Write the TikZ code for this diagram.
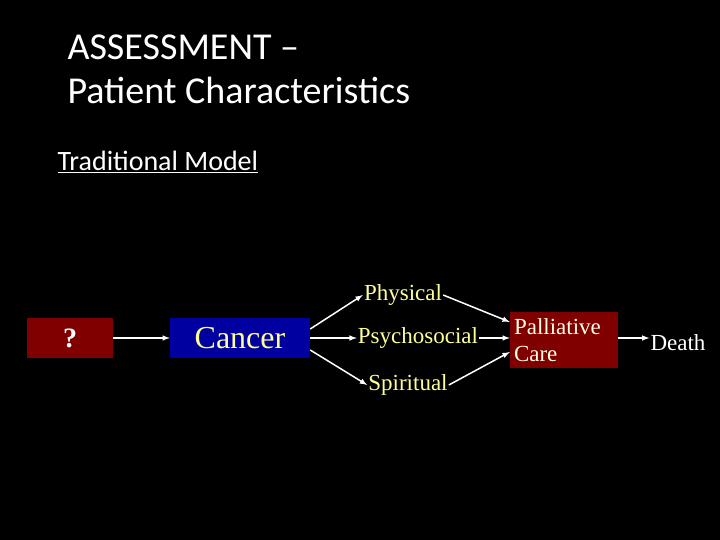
\documentclass[tikz,border=0pt]{standalone}
\usepackage{fontspec}
\setmainfont{Liberation Serif}
\newfontfamily\titlefont{Carlito}
\usetikzlibrary{positioning}
\definecolor{boxred}{HTML}{800000}
\definecolor{boxblue}{HTML}{0000A0}
\definecolor{lightyellow}{HTML}{FFFF99}
\begin{document}
\begin{tikzpicture}[x=1pt,y=-1pt,
    box/.style={inner sep=0pt, anchor=center},
    lbl/.style={text=lightyellow, font=\fontsize{23}{25}\selectfont, inner sep=1pt},
    link/.style={white, line width=1.5pt, -latex}]

    % Background
    \fill[black] (0,0) rectangle (720,540);
    \useasboundingbox (0,0) rectangle (720,540);

    % Title
    \node[anchor=west, text=white, font=\titlefont\fontsize{38}{44}\selectfont, align=left] (title) at (64,69)
      {ASSESSMENT –\\Patient Characteristics};
    \node[anchor=west, text=white, font=\titlefont\fontsize{28}{30}\selectfont] (model) at (54,162)
      {\underline{Traditional Model}};

    % Boxes
    \node[box, fill=boxred, minimum width=86, minimum height=40, text=white, font=\bfseries\fontsize{28}{30}\selectfont] (unknown) at (70,338) {?};
    \node[box, fill=boxblue, minimum width=140, minimum height=40, text=lightyellow, font=\fontsize{32}{34}\selectfont] (cancer) at (240,338) {Cancer};
    \node[box, fill=boxred, minimum width=108, minimum height=56, text=white!90!yellow, align=left, font=\fontsize{23}{27}\selectfont, text width=100] (palliative) at (564,340) {Palliative\\Care};

    % Labels
    \node[lbl] (physical) at (403,295) {Physical};
    \node[lbl] (psycho) at (418,338) {Psychosocial};
    \node[lbl] (spiritual) at (408,385) {Spiritual};
    \node[lbl, text=white] (death) at (678,343) {Death};

    % Arrows
    \draw[link] (unknown) -- (cancer);
    \draw[link] (cancer.east |- 0,329) -- (physical.west);
    \draw[link] (cancer) -- (psycho);
    \draw[link] (cancer.east |- 0,350) -- (spiritual.west);
    \draw[link] (physical.east) -- (palliative.west |- 0,322);
    \draw[link] (psycho) -- (palliative.west |- 0,338);
    \draw[link] (spiritual.east) -- (palliative.west |- 0,352);
    \draw[link] (palliative.east |- 0,338) -- (death.west |- 0,338);
\end{tikzpicture}
\end{document}
